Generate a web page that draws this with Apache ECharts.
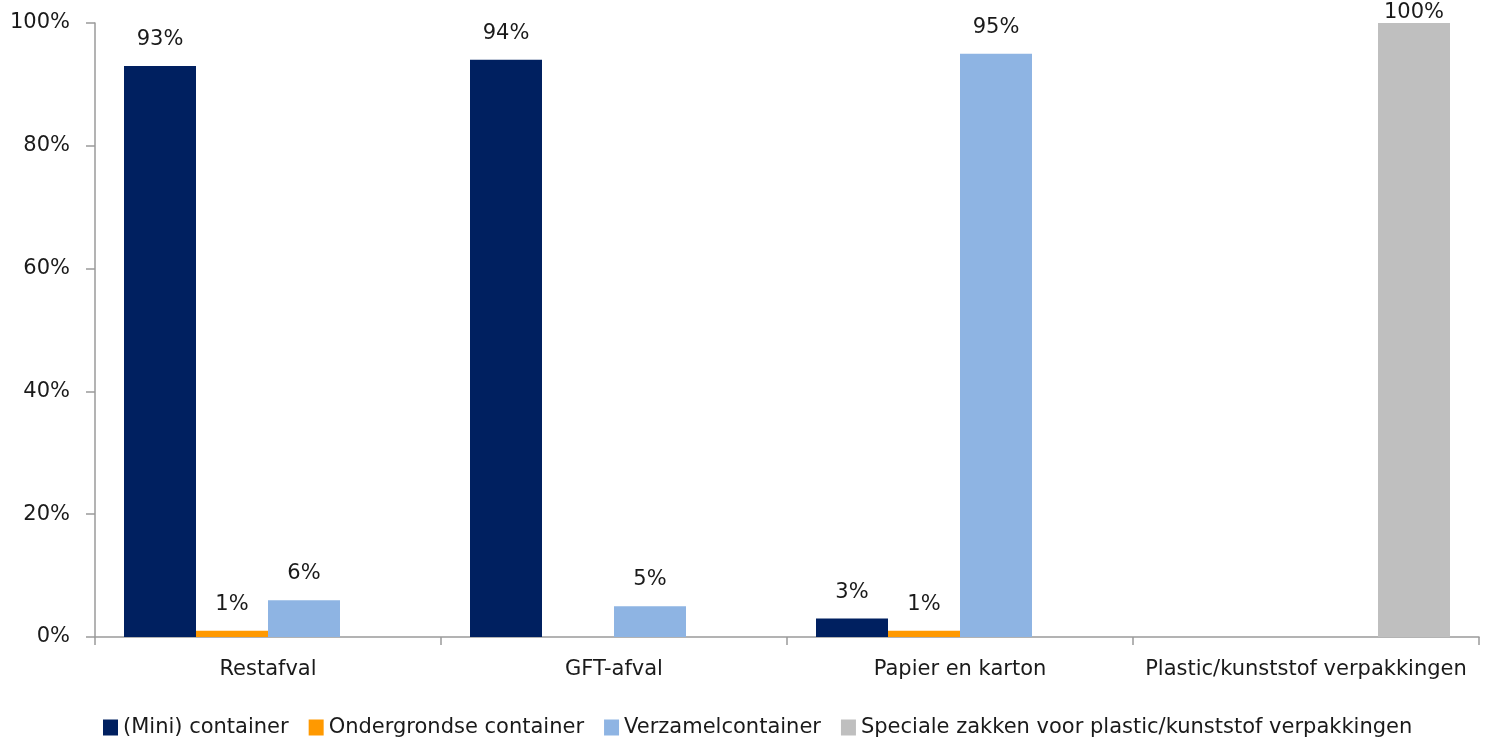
<!DOCTYPE html>
<html>
<head>
<meta charset="utf-8">
<script src="https://cdn.jsdelivr.net/npm/echarts@6/dist/echarts.min.js"></script>
<style>
  html, body { margin: 0; padding: 0; background: #fff; }
  #chart { width: 1488px; height: 739px; }
</style>
</head>
<body>
<div id="chart"></div>
<script>
// Waste streams on the category axis
const categories = ['Restafval', 'GFT-afval', 'Papier en karton', 'Plastic/kunststof verpakkingen'];

// Share of households per collection method (percent)
const miniContainer = [93, 94, 3, 0];
const ondergrondse = [1, 0, 1, 0];
const verzamelcontainer = [6, 5, 95, 0];
const specialeZakken = [0, 0, 0, 100];

const seriesNames = [
  '(Mini) container',
  'Ondergrondse container',
  'Verzamelcontainer',
  'Speciale zakken voor plastic/kunststof verpakkingen'
];
const seriesData = [miniContainer, ondergrondse, verzamelcontainer, specialeZakken];
const seriesColors = ['#002060', '#FF9900', '#8EB4E3', '#BFBFBF'];

const yTicks = [0, 20, 40, 60, 80, 100];

const FONT = 'DejaVu Sans';
const FS = 21;
const TEXT = '#1a1a1a';
const AXIS = '#9a9a9a';

const chart = echarts.init(document.getElementById('chart'), null, { renderer: 'canvas' });

const series = seriesNames.map((name, i) => ({
  name,
  type: 'bar',
  barWidth: 72,
  barGap: '0%',
  itemStyle: { color: seriesColors[i] },
  data: seriesData[i].map(v => ({
    // empty slots stay blank, no label
    value: v === 0 ? null : v,
    label: { distance: v >= 100 ? 0 : 16 }
  })),
  label: {
    show: true,
    position: 'top',
    fontFamily: FONT,
    fontSize: FS,
    color: TEXT,
    formatter: p => p.value == null ? '' : p.value + '%'
  }
}));

chart.setOption({
  animation: false,
  backgroundColor: '#fff',
  textStyle: { fontFamily: FONT },
  grid: { left: 95, right: 9, top: 23, bottom: 102, containLabel: false },
  legend: {
    top: 712,
    left: 98,
    icon: 'rect',
    itemWidth: 15,
    itemHeight: 16,
    itemGap: 20,
    textStyle: { fontFamily: FONT, fontSize: FS, color: TEXT },
    data: seriesNames
  },
  xAxis: {
    type: 'category',
    data: categories,
    axisLine: { lineStyle: { color: AXIS, width: 1.5 } },
    axisTick: { show: true, length: 8, alignWithLabel: false, lineStyle: { color: AXIS, width: 1.5 } },
    axisLabel: { fontFamily: FONT, fontSize: FS, color: TEXT, margin: 22, interval: 0 }
  },
  yAxis: {
    type: 'value',
    min: 0,
    max: 100,
    interval: 20,
    axisLine: { show: true, lineStyle: { color: AXIS, width: 1.5 } },
    axisTick: { show: true, length: 9, lineStyle: { color: AXIS, width: 1.5 } },
    splitLine: { show: false },
    axisLabel: {
      fontFamily: FONT, fontSize: FS, color: TEXT, margin: 25,
      formatter: v => yTicks.includes(v) ? v + '%' : ''
    }
  },
  series
});
</script>
</body>
</html>
